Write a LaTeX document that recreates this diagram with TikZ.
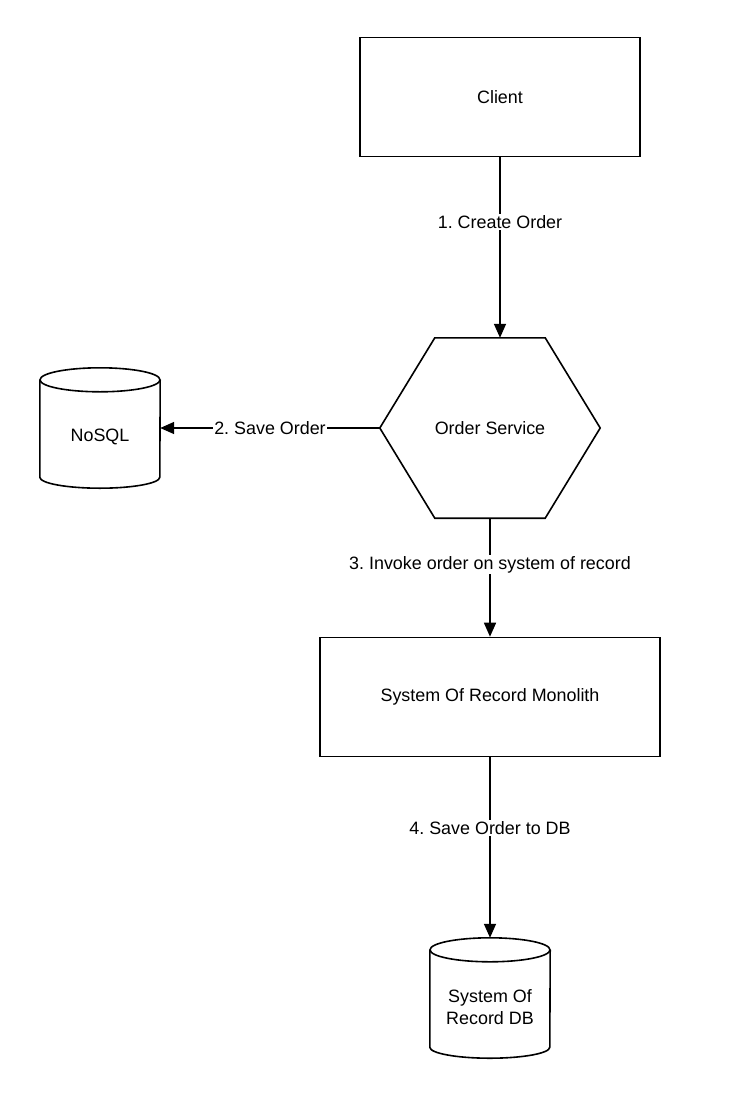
\documentclass[tikz,border=0pt]{standalone}
\usepackage{fontspec}
\setmainfont{Liberation Sans}
\usepackage{tikz}
\usetikzlibrary{positioning, arrows.meta}
\frenchspacing

\begin{document}
\begin{tikzpicture}[x=1pt, y=-1pt,
  every node/.style={font=\fontsize{17.9}{22}\selectfont},
  box/.style={draw, line width=1.6pt, minimum width=280pt, minimum height=119pt},
  hexnode/.style={minimum width=220pt, minimum height=180pt, inner sep=0pt},
  drum/.style={minimum width=120pt, minimum height=120pt, inner sep=0pt},
  flow/.style={line width=1.6pt, -{Triangle[length=14pt, width=12pt]}},
  steplbl/.style={fill=white, inner sep=1.5pt}]
\useasboundingbox (0,0) rectangle (737,1108);

% Client
\node[box] (client) at (500,97) {Client};

% Order service (hexagon)
\node[hexnode] (svc) at (490,428) {Order Service};
\draw[line width=1.6pt, line join=miter]
  (svc.west) -- ([xshift=55pt]svc.north west) -- ([xshift=-55pt]svc.north east)
  -- (svc.east) -- ([xshift=-55pt]svc.south east) -- ([xshift=55pt]svc.south west) -- cycle;

% NoSQL store
\node[drum] (nosql) at (100,428) {};
\draw[line width=1.6pt] ([yshift=-12pt]nosql.north) ellipse [x radius=60pt, y radius=12pt];
\draw[line width=1.6pt]
  ([yshift=-12pt]nosql.north west) -- ([yshift=11pt]nosql.south west)
  arc [start angle=180, end angle=360, x radius=60pt, y radius=11pt]
  -- ([yshift=-12pt]nosql.north east);
\node (nosqltxt) at (100,437) {NoSQL};

% Monolith
\node[box, minimum width=340pt] (mono) at (490,697) {System Of Record Monolith};

% System of record DB
\node[drum] (db) at (490,998) {};
\draw[line width=1.6pt] ([yshift=-12pt]db.north) ellipse [x radius=60pt, y radius=12pt];
\draw[line width=1.6pt]
  ([yshift=-12pt]db.north west) -- ([yshift=11pt]db.south west)
  arc [start angle=180, end angle=360, x radius=60pt, y radius=11pt]
  -- ([yshift=-12pt]db.north east);
\node[align=center] (dbtxt) at (490,1007) {System Of\\Record DB};

% Flows
\draw[flow] (client.south) -- node[steplbl, pos=0.36] {1. Create Order} (client.south |- svc.north);
\draw[flow] (svc.west) -- node[steplbl, pos=0.5] {2. Save Order} (nosql.east);
\draw[flow] (svc.south) -- node[steplbl, pos=0.39] {3. Invoke order on system of record} (mono.north);
\draw[flow] (mono.south) -- node[steplbl, pos=0.39] {4. Save Order to DB} (db.north);
\end{tikzpicture}
\end{document}
